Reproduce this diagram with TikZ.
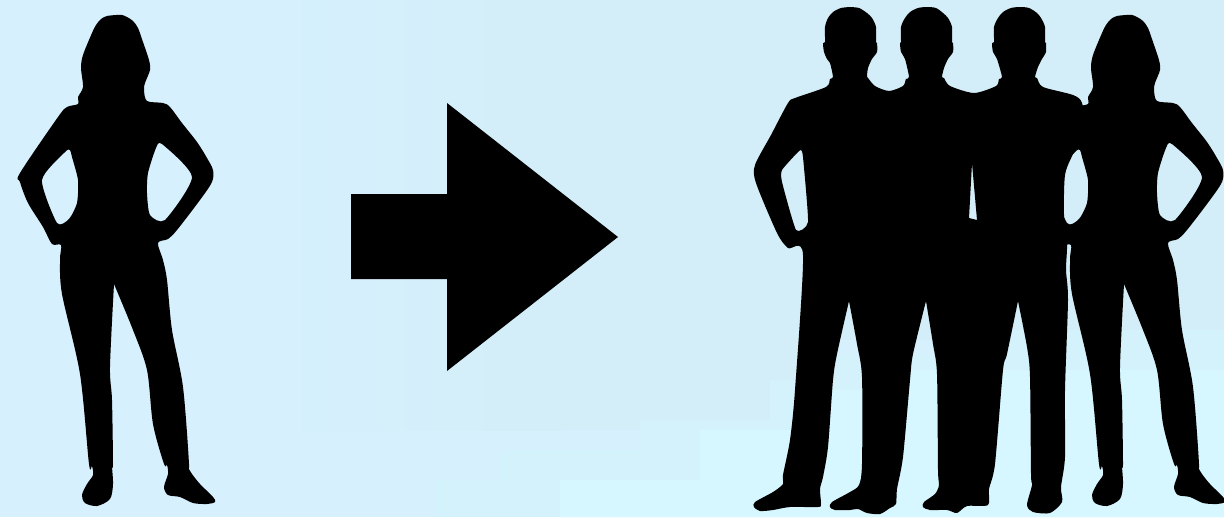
\documentclass[tikz,border=0pt]{standalone}
\definecolor{bgbase}{RGB}{214,240,254}
\definecolor{bgmid}{RGB}{211,238,248}
\definecolor{bglow}{RGB}{214,247,255}
\definecolor{bgstep}{RGB}{212,242,252}
\newcommand{\womanpath}{
  plot[smooth,tension=.5] coordinates{(116,15)(122,15)(127,17)(133,21)(138,28)(143,42)(149,60)(150,70)(145,83)(144,90)(147,101)(163,103)(170,107)(182,123)(197,142)(207,158)(213,170)(212,182)(200,200)(177,230)(168,239)(158,243)(163,260)(167,280)(172,330)(183,387)(189,464)(187,465)(192,474)(200,484)(213,497)(215,502)(207,504)(193,503)(180,497)(168,495)(164,487)(168,474)(167,465)(164,464)(153,424)(147,370)(133,330)(114,284)}
  -- plot[smooth,tension=.5] coordinates{(114,284)(110,367)(112,400)(113,464)(112,466)(113,484)(110,499)(97,506)(85,503)(82,495)(87,484)(93,475)(92,466)(89,464)(80,374)(62,294)(60,260)(61,245)(52,244)(43,227)(28,203)(20,182)(20,173)(58,117)(67,107)(78,104)(78,97)(83,87)(81,68)(83,55)(92,33)(96,25)(101,19)(107,16)(116,15)} -- cycle
  plot[smooth cycle,tension=.4] coordinates{(70,150)(72,157)(78,180)(77,203)(69,219)(57,223)(42,180)(65,152)}
  plot[smooth cycle,tension=.4] coordinates{(162,144)(192,177)(165,220)(150,215)(147,193)(148,173)(156,148)}
}
\tikzset{silhouette/.style={fill=black,even odd rule}}
\begin{document}
\begin{tikzpicture}[x=1pt,y=-1pt]
\useasboundingbox (0,0) rectangle (1224,517);
% background
\fill[bgbase] (0,0) rectangle (1224,517);
\shade[left color=bgbase,right color=bgmid] (250,0) rectangle (560,430);
\fill[bgmid] (560,0) rectangle (1224,340);
\fill[bgmid] (560,340) rectangle (840,430);
\fill[bgstep] (435,517)--(435,480)--(500,480)--(500,450)--(640,450)--(640,420)--(770,420)--(770,380)--(835,380)--(835,355)--(1000,355)--(1000,330)--(1224,330)--(1224,517)--cycle;
\fill[bglow] (560,517)--(560,480)--(700,480)--(700,430)--(800,430)--(800,390)--(900,390)--(900,370)--(1224,370)--(1224,517)--cycle;
% left woman
\fill[silhouette] \womanpath;
% arrow
\fill[black] (351,194)--(447,194)--(447,103)--(618,237)--(447,371)--(447,279)--(351,279)--cycle;
% three men
\fill[silhouette]
 plot[smooth,tension=.45] coordinates{(850,7)(841,8)(833,12)(828,18)(825,27)(825,42)(823,43)(824,52)(827,59)(830,63)(833,77)(830,79)(826,87)(795,98)(788,103)(771,135)(755,165)(756,183)(777,233)(788,248)(803,255)(795,390)(790,440)(783,475)(783,484)(773,492)(755,502)(754,507)(760,511)(773,510)(790,507)(818,507)(821,504)(820,489)(823,477)(828,447)(833,380)(837,354)(849,301)}
 -- plot[smooth,tension=.45] coordinates{(849,301)(857,344)(862,377)(862,464)(859,485)(850,492)(832,502)(830,507)(835,510)(850,510)(858,509)(867,513)(880,514)(890,508)(896,504)(897,489)(903,457)(910,380)(913,354)(926,301)}
 -- plot[smooth,tension=.45] coordinates{(926,301)(933,344)(937,374)(938,470)(939,485)(935,494)(924,502)(923,507)(930,510)(947,510)(957,513)(967,506)(988,505)(989,489)(995,464)(1003,370)(1007,354)(1018,301)}
 -- plot[smooth,tension=.45] coordinates{(1018,301)(1027,347)(1030,377)(1031,474)(1032,485)(1027,505)(1033,512)(1050,513)(1062,502)(1061,487)(1065,457)(1065,390)(1068,300)(1066,270)(1067,245)(1064,215)(1065,175)(1073,154)(1085,130)(1082,103)(1073,95)(1043,87)(1037,78)(1035,77)(1038,67)(1042,59)(1046,52)(1046,43)(1045,42)(1045,27)(1041,18)(1037,13)(1029,8)(1020,7)(1011,8)(1003,12)(998,18)(994,27)(994,42)(992,43)(993,52)(997,59)(1002,77)(999,79)(996,86)(974,93)(950,86)(944,78)(942,77)(944,68)(948,59)(953,52)(953,43)(952,42)(952,27)(948,18)(943,13)(936,8)(927,7)(918,8)(910,12)(905,18)(901,27)(901,42)(900,43)(901,52)(905,59)(909,77)(906,79)(903,86)(889,91)(875,86)(868,78)(867,77)(868,68)(872,59)(877,52)(877,43)(876,42)(876,27)(872,18)(867,13)(859,8)(850,7)} -- cycle
 plot[smooth cycle,tension=.3] coordinates{(801,150)(803,157)(808,222)(796,230)(782,182)(782,170)(797,153)}
 (972,163)--(977,220)--(969,218)--(970,200)--cycle;
% right woman
\begin{scope}[xshift=1010pt]
\fill[silhouette] \womanpath;
\end{scope}
\end{tikzpicture}
\end{document}
